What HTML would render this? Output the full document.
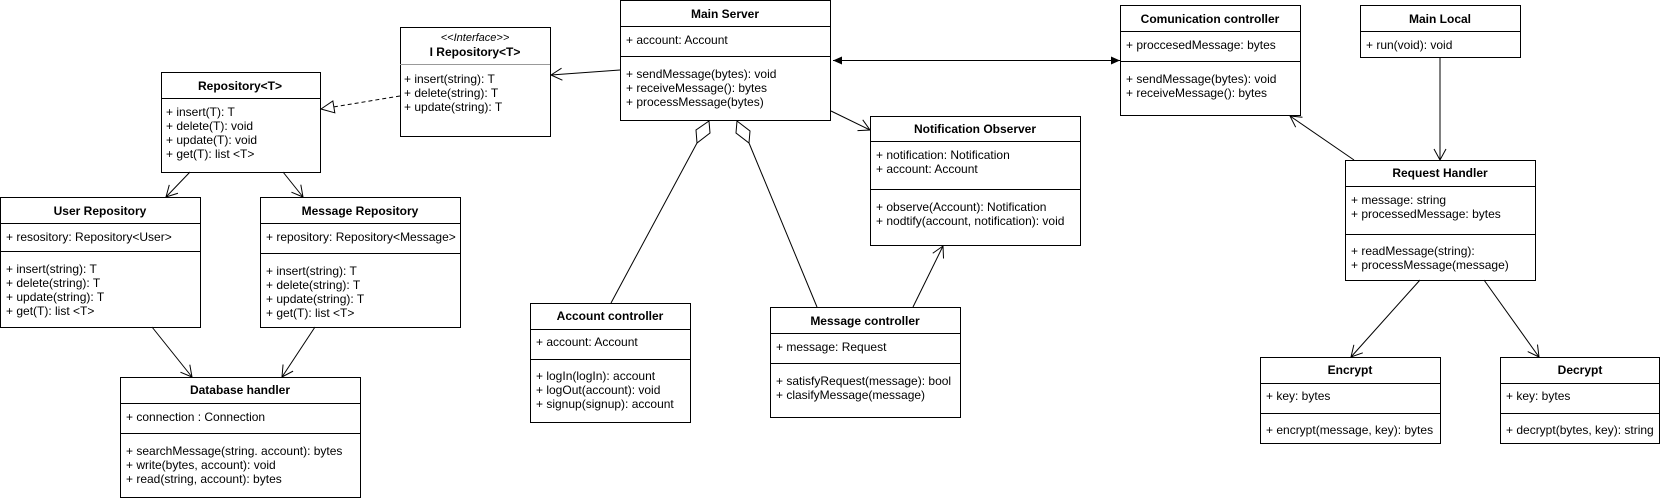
<!DOCTYPE html>
<html><head><meta charset="utf-8"><style>
html,body{margin:0;padding:0;background:#fff;}
svg{display:block;}
text{font-family:"Liberation Sans",Arial,sans-serif;font-size:12px;fill:#000;}
.b{font-weight:bold;}
</style></head><body>
<svg width="1661" height="501" viewBox="0 0 1661 501" xmlns="http://www.w3.org/2000/svg">
<defs>
<marker id="open" markerWidth="14" markerHeight="14" refX="12" refY="7" orient="auto" markerUnits="userSpaceOnUse"><path d="M1,1 L12,7 L1,13" fill="none" stroke="#000" stroke-width="1"/></marker>
<marker id="fill" markerWidth="12" markerHeight="12" refX="10" refY="6" orient="auto" markerUnits="userSpaceOnUse"><path d="M1,2 L10,6 L1,10 Z" fill="#000"/></marker>
<marker id="fillS" markerWidth="12" markerHeight="12" refX="2" refY="6" orient="auto" markerUnits="userSpaceOnUse"><path d="M11,2 L2,6 L11,10 Z" fill="#000"/></marker>
<marker id="tri" markerWidth="16" markerHeight="16" refX="14" refY="8" orient="auto" markerUnits="userSpaceOnUse"><path d="M1,2 L14,8 L1,14 Z" fill="#fff" stroke="#000"/></marker>
</defs>
<g fill="#fff" stroke="#000" stroke-width="1">
<rect x="400.5" y="27.5" width="150" height="109"/>
<rect x="161.5" y="72.5" width="159" height="100"/><line x1="161" y1="98.5" x2="320" y2="98.5"/>
<rect x="0.5" y="197.5" width="200" height="130"/><line x1="0" y1="223.5" x2="200" y2="223.5"/><line x1="0" y1="251.5" x2="200" y2="251.5"/>
<rect x="260.5" y="197.5" width="200" height="130"/><line x1="260" y1="223.5" x2="460" y2="223.5"/><line x1="260" y1="253.5" x2="460" y2="253.5"/>
<rect x="120.5" y="377.5" width="240" height="120"/><line x1="120" y1="403.5" x2="360" y2="403.5"/><line x1="120" y1="433.5" x2="360" y2="433.5"/>
<rect x="620.5" y="0.5" width="210" height="120"/><line x1="620" y1="26.5" x2="831" y2="26.5"/><line x1="620" y1="56.5" x2="831" y2="56.5"/>
<rect x="870.5" y="116.5" width="210" height="129"/><line x1="870" y1="141.5" x2="1080" y2="141.5"/><line x1="870" y1="189.5" x2="1080" y2="189.5"/>
<rect x="530.5" y="303.5" width="160" height="119"/><line x1="530" y1="329.5" x2="690" y2="329.5"/><line x1="530" y1="359.5" x2="690" y2="359.5"/>
<rect x="770.5" y="307.5" width="190" height="110"/><line x1="770" y1="333.5" x2="960" y2="333.5"/><line x1="770" y1="363.5" x2="960" y2="363.5"/>
<rect x="1120.5" y="5.5" width="180" height="110"/><line x1="1120" y1="31.5" x2="1300" y2="31.5"/><line x1="1120" y1="61.5" x2="1300" y2="61.5"/>
<rect x="1360.5" y="5.5" width="160" height="52"/><line x1="1360" y1="31.5" x2="1520" y2="31.5"/>
<rect x="1345.5" y="160.5" width="190" height="120"/><line x1="1345" y1="186.5" x2="1535" y2="186.5"/><line x1="1345" y1="234.5" x2="1535" y2="234.5"/>
<rect x="1260.5" y="357.5" width="180" height="86"/><line x1="1260" y1="383.5" x2="1440" y2="383.5"/><line x1="1260" y1="413.5" x2="1440" y2="413.5"/>
<rect x="1500.5" y="357.5" width="159" height="86"/><line x1="1500" y1="383.5" x2="1659" y2="383.5"/><line x1="1500" y1="413.5" x2="1659" y2="413.5"/>
</g>
<line x1="400" y1="64.5" x2="550" y2="64.5" stroke="#999" stroke-width="1"/>

<g stroke="#000" stroke-width="1" fill="none">
<line x1="190" y1="172" x2="166" y2="197" marker-end="url(#open)"/>
<line x1="283" y1="172" x2="303" y2="197" marker-end="url(#open)"/>
<line x1="152" y1="327" x2="192" y2="377" marker-end="url(#open)"/>
<line x1="315" y1="327" x2="282" y2="377" marker-end="url(#open)"/>
<line x1="400" y1="96" x2="321" y2="109" stroke-dasharray="4,3" marker-end="url(#tri)"/>
<line x1="620" y1="70" x2="551" y2="75" marker-end="url(#open)"/>
<line x1="833" y1="60.5" x2="1120" y2="60.5" marker-start="url(#fillS)" marker-end="url(#fill)"/>
<line x1="831" y1="111" x2="870" y2="130" marker-end="url(#open)"/>
<polygon points="709,121 710,133 697,143 696,130" fill="#fff"/>
<line x1="697" y1="143" x2="611" y2="303"/>
<polygon points="737,121 750,131 749,143 736,133" fill="#fff"/>
<line x1="749" y1="143" x2="817" y2="307"/>
<line x1="913" y1="307" x2="943" y2="246" marker-end="url(#open)"/>
<line x1="1440" y1="57" x2="1440" y2="160" marker-end="url(#open)"/>
<line x1="1354" y1="160" x2="1290" y2="116" marker-end="url(#open)"/>
<line x1="1420" y1="280" x2="1351" y2="357" marker-end="url(#open)"/>
<line x1="1484" y1="280" x2="1539" y2="357" marker-end="url(#open)"/>
</g>

<text x="475" y="41" text-anchor="middle" font-style="italic" style="font-size:11px">&lt;&lt;Interface&gt;&gt;</text>
<text x="475" y="56" text-anchor="middle" class="b">I Repository&lt;T&gt;</text>
<text x="404" y="83">+ insert(string): T</text>
<text x="404" y="97">+ delete(string): T</text>
<text x="404" y="111">+ update(string): T</text>

<text x="240" y="90" text-anchor="middle" class="b">Repository&lt;T&gt;</text>
<text x="166" y="116">+ insert(T): T</text>
<text x="166" y="130">+ delete(T): void</text>
<text x="166" y="144">+ update(T): void</text>
<text x="166" y="158">+ get(T): list &lt;T&gt;</text>

<text x="100" y="215" text-anchor="middle" class="b">User Repository</text>
<text x="6" y="241">+ resository: Repository&lt;User&gt;</text>
<text x="6" y="273">+ insert(string): T</text>
<text x="6" y="287">+ delete(string): T</text>
<text x="6" y="301">+ update(string): T</text>
<text x="6" y="315">+ get(T): list &lt;T&gt;</text>

<text x="360" y="215" text-anchor="middle" class="b">Message Repository</text>
<text x="266" y="241">+ repository: Repository&lt;Message&gt;</text>
<text x="266" y="275">+ insert(string): T</text>
<text x="266" y="289">+ delete(string): T</text>
<text x="266" y="303">+ update(string): T</text>
<text x="266" y="317">+ get(T): list &lt;T&gt;</text>

<text x="240" y="394" text-anchor="middle" class="b">Database handler</text>
<text x="126" y="421">+ connection : Connection</text>
<text x="126" y="455">+ searchMessage(string. account): bytes</text>
<text x="126" y="469">+ write(bytes, account): void</text>
<text x="126" y="483">+ read(string, account): bytes</text>

<text x="725" y="18" text-anchor="middle" class="b">Main Server</text>
<text x="626" y="44">+ account: Account</text>
<text x="626" y="78">+ sendMessage(bytes): void</text>
<text x="626" y="92">+ receiveMessage(): bytes</text>
<text x="626" y="106">+ processMessage(bytes)</text>

<text x="975" y="133" text-anchor="middle" class="b">Notification Observer</text>
<text x="876" y="159">+ notification: Notification</text>
<text x="876" y="173">+ account: Account</text>
<text x="876" y="211">+ observe(Account): Notification</text>
<text x="876" y="225">+ nodtify(account, notification): void</text>

<text x="610" y="320" text-anchor="middle" class="b">Account controller</text>
<text x="536" y="346">+ account: Account</text>
<text x="536" y="380">+ logIn(logIn): account</text>
<text x="536" y="394">+ logOut(account): void</text>
<text x="536" y="408">+ signup(signup): account</text>

<text x="865" y="325" text-anchor="middle" class="b">Message controller</text>
<text x="776" y="351">+ message: Request</text>
<text x="776" y="385">+ satisfyRequest(message): bool</text>
<text x="776" y="399">+ clasifyMessage(message)</text>

<text x="1210" y="23" text-anchor="middle" class="b">Comunication controller</text>
<text x="1126" y="49">+ proccesedMessage: bytes</text>
<text x="1126" y="83">+ sendMessage(bytes): void</text>
<text x="1126" y="97">+ receiveMessage(): bytes</text>

<text x="1440" y="23" text-anchor="middle" class="b">Main Local</text>
<text x="1366" y="49">+ run(void): void</text>

<text x="1440" y="177" text-anchor="middle" class="b">Request Handler</text>
<text x="1351" y="204">+ message: string</text>
<text x="1351" y="218">+ processedMessage: bytes</text>
<text x="1351" y="255">+ readMessage(string):</text>
<text x="1351" y="269">+ processMessage(message)</text>

<text x="1350" y="374" text-anchor="middle" class="b">Encrypt</text>
<text x="1266" y="400">+ key: bytes</text>
<text x="1266" y="434">+ encrypt(message, key): bytes</text>

<text x="1580" y="374" text-anchor="middle" class="b">Decrypt</text>
<text x="1506" y="400">+ key: bytes</text>
<text x="1506" y="434">+ decrypt(bytes, key): string</text>
</svg>
</body></html>
